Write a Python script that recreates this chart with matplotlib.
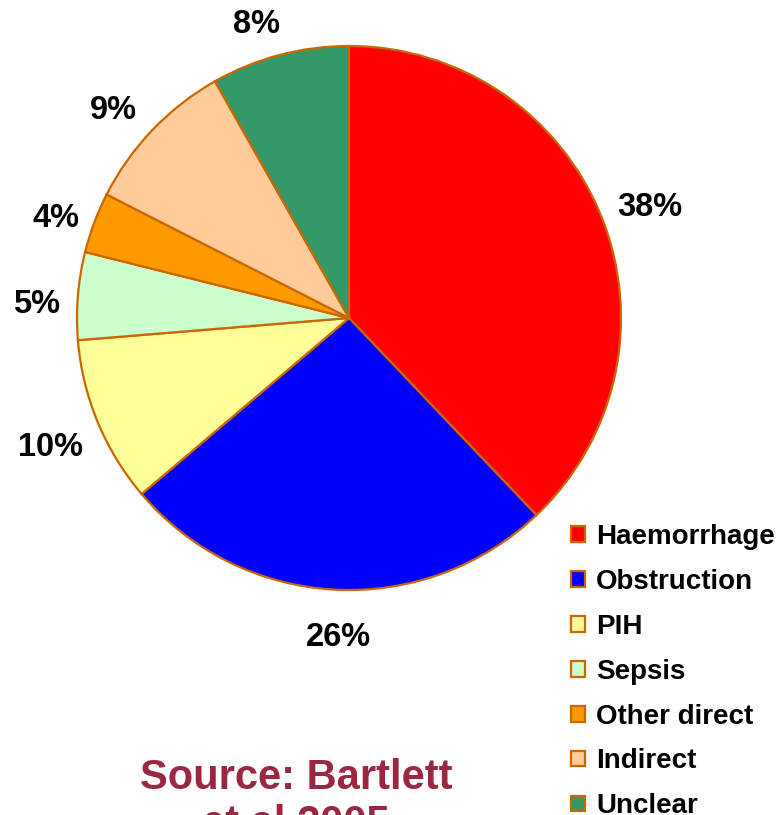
import matplotlib
matplotlib.use("Agg")
import matplotlib.pyplot as plt

categories = ["Haemorrhage", "Obstruction", "PIH", "Sepsis", "Other direct", "Indirect", "Unclear"]
values = [37.9, 25.9, 9.9, 5.2, 3.6, 9.3, 8.2]
colors = ["#FF0000", "#0000FF", "#FFFF99", "#CCFFCC", "#FF9900", "#FFCC99", "#339966"]
edge_color = "#CC6600"
source_text = "Source: Bartlett\net al 2005"

plt.rcParams['font.family'] = ['Liberation Sans', 'DejaVu Sans']

W, H = 782, 815
fig = plt.figure(figsize=(W / 100, H / 100), dpi=100)
ax = fig.add_axes([0, 0, 1, 1])
ax.set_xlim(0, W)
ax.set_ylim(0, H)

wedges, texts, autotexts = ax.pie(
    values, colors=colors, startangle=90, counterclock=False,
    center=(349, H - 318), radius=272, frame=True,
    autopct='%.0f%%', pctdistance=1.17,
    wedgeprops=dict(edgecolor=edge_color, linewidth=1.6),
    textprops=dict(fontsize=23.5, fontweight='bold', color='black'),
)
# small label nudges to match the reference placement
nudges = [(5, -8), (6, -2), (-4, -8), (5, -12), (5, -12), (-6, -13), (-11, -14)]
for t, (dx, dy) in zip(autotexts, nudges):
    x, y = t.get_position()
    t.set_position((x + dx, y + dy))
ax.set_xlim(0, W)
ax.set_ylim(0, H)
ax.set_aspect('auto')
ax.axis('off')

leg = ax.legend(
    wedges, categories, loc='upper left',
    bbox_to_anchor=(571 / W, 1 - 524 / H), bbox_transform=fig.transFigure,
    frameon=False, borderpad=0, borderaxespad=0,
    handlelength=0.5, handleheight=0.5, handletextpad=0.4,
    labelspacing=0.68,
    prop=dict(size=20, weight='bold'),
)

fig.text(296 / W, 1 - 758 / H, source_text, ha='center', va='top',
         multialignment='center', fontsize=30, fontweight='bold',
         color='#9B2743')

fig.savefig("out.png", dpi=100)
